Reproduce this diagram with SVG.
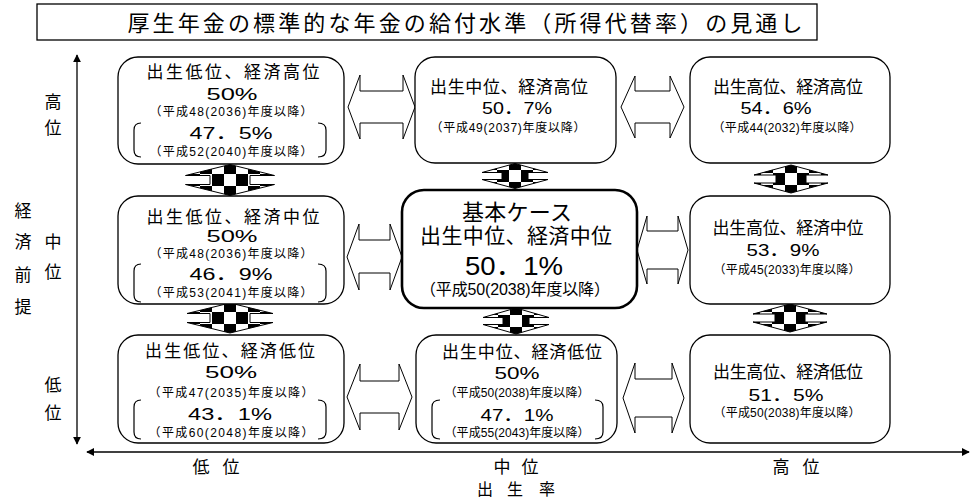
<svg xmlns="http://www.w3.org/2000/svg" width="971" height="499" viewBox="0 0 971 499">
<style>
text{font-family:"Liberation Sans","Noto Sans CJK JP",sans-serif;dominant-baseline:central;text-anchor:middle;fill:#000}
.t{font-size:17px}
.p{font-size:17px}
.s{font-size:12px}
.ax{font-size:17px}
.box{fill:#fff;stroke:#000;stroke-width:1.3}
.br{fill:none;stroke:#000;stroke-width:1.2}
.ha{fill:#fff;stroke:#000;stroke-width:1}
.va{fill:url(#chk);stroke:#000;stroke-width:1}
.axis{stroke:#000;stroke-width:1.3;fill:none}
</style>
<defs>
<pattern id="chk" patternUnits="userSpaceOnUse" x="-6" y="-6" width="24" height="24">
<rect width="24" height="24" fill="#fff"/>
<rect x="12" y="0" width="12" height="12" fill="#000"/>
<rect x="0" y="12" width="12" height="12" fill="#000"/>
</pattern>
<marker id="ah" viewBox="0 0 10 10" refX="9" refY="5" markerWidth="8" markerHeight="8" markerUnits="userSpaceOnUse" orient="auto-start-reverse">
<path d="M0,0 L10,5 L0,10 z" fill="#000"/>
</marker>
</defs>

<g id="title">
<rect x="37" y="4" width="780" height="36" fill="#fff" stroke="#000" stroke-width="1.3"/>
<text x="465" y="23" style="font-size:22px" textLength="675" lengthAdjust="spacing">厚生年金の標準的な年金の給付水準（所得代替率）の見通し</text>
</g>

<g id="axes">
<line class="axis" x1="77" y1="444" x2="77" y2="55" marker-start="url(#ah)" marker-end="url(#ah)"/>
<line class="axis" x1="87" y1="452" x2="969" y2="452" marker-start="url(#ah)" marker-end="url(#ah)"/>
<text class="ax" x="53" y="102">高</text>
<text class="ax" x="53" y="128">位</text>
<text class="ax" x="53" y="242">中</text>
<text class="ax" x="53" y="272">位</text>
<text class="ax" x="53" y="385">低</text>
<text class="ax" x="53" y="413">位</text>
<text class="ax" x="23" y="211">経</text>
<text class="ax" x="23" y="242">済</text>
<text class="ax" x="23" y="275">前</text>
<text class="ax" x="23" y="307">提</text>
<text class="ax" x="201" y="467">低</text>
<text class="ax" x="231" y="467">位</text>
<text class="ax" x="502" y="467">中</text>
<text class="ax" x="530" y="467">位</text>
<text class="ax" x="781" y="467">高</text>
<text class="ax" x="811" y="467">位</text>
<text class="ax" x="485" y="489" style="font-size:16px">出</text>
<text class="ax" x="515" y="489" style="font-size:16px">生</text>
<text class="ax" x="547" y="489" style="font-size:16px">率</text>
</g>

<g id="connectors">
<polygon class="ha" points="348,107 360,75 360,91 403,91 403,75 415,107 403,139 403,123 360,123 360,139"/>
<polygon class="ha" points="621,107 635,76 635,91 670,91 670,76 684,107 670,138 670,123 635,123 635,138"/>
<polygon class="ha" points="347,257 359,224 359,240 390,240 390,224 402,257 390,290 390,273 359,273 359,290"/>
<polygon class="ha" points="637,250 647,216 647,231 678,231 678,216 688,250 678,284 678,269 647,269 647,284"/>
<polygon class="ha" points="347,397 360,364 360,381 399,381 399,364 412,397 399,430 399,413 360,413 360,430"/>
<polygon class="ha" points="623,398 635,363 635,379 672,379 672,363 684,398 672,433 672,417 635,417 635,433"/>
<g transform="translate(230,180)"><polygon class="va" points="0,-15.5 44.5,-4.5 20,-4.5 20,4.5 44.5,4.5 0,15.5 -44.5,4.5 -20,4.5 -20,-4.5 -44.5,-4.5"/></g>
<g transform="translate(230,318)"><polygon class="va" points="0,-15 43,-4.5 20,-4.5 20,4.5 43,4.5 0,15 -43,4.5 -20,4.5 -20,-4.5 -43,-4.5"/></g>
<g transform="translate(515,176)"><polygon class="va" points="0,-12.5 33,-3.5 13,-3.5 13,3.5 33,3.5 0,12.5 -33,3.5 -13,3.5 -13,-3.5 -33,-3.5"/></g>
<g transform="translate(516,321)"><polygon class="va" points="0,-13 33,-3.5 13,-3.5 13,3.5 33,3.5 0,13 -33,3.5 -13,3.5 -13,-3.5 -33,-3.5"/></g>
<g transform="translate(791,179)"><polygon class="va" points="0,-14 37,-4 15,-4 15,4 37,4 0,14 -37,4 -15,4 -15,-4 -37,-4"/></g>
<g transform="translate(790,318)"><polygon class="va" points="0,-14 37,-4 15,-4 15,4 37,4 0,14 -37,4 -15,4 -15,-4 -37,-4"/></g>
</g>

<g id="node-low-high">
<rect class="box" x="118" y="57" width="226" height="107" rx="20"/>
<text class="t" x="233" y="72" textLength="173">出生低位、経済高位</text>
<text class="p" x="232" y="94" textLength="51" lengthAdjust="spacingAndGlyphs">50%</text>
<text class="s" x="231" y="112" textLength="163">（平成48(2036)年度以降）</text>
<path class="br" d="M141,123 Q134,123 134,130 V150 Q134,157 141,157 M318,123 Q326,123 326,130 V150 Q326,157 318,157"/>
<text class="p" x="231" y="133" textLength="83" lengthAdjust="spacingAndGlyphs">47．5%</text>
<text class="s" x="231" y="152" textLength="163">（平成52(2040)年度以降）</text>
</g>

<g id="node-mid-high">
<rect class="box" x="415" y="57" width="201" height="106" rx="20"/>
<text class="t" x="509" y="87" textLength="158">出生中位、経済高位</text>
<text class="p" x="517" y="108" textLength="70" lengthAdjust="spacingAndGlyphs">50．7%</text>
<text class="s" x="508" y="128" textLength="155">（平成49(2037)年度以降）</text>
</g>

<g id="node-high-high">
<rect class="box" x="690" y="57" width="200" height="106" rx="20"/>
<text class="t" x="788" y="87" textLength="150">出生高位、経済高位</text>
<text class="p" x="776" y="108" textLength="71" lengthAdjust="spacingAndGlyphs">54．6%</text>
<text class="s" x="787" y="128" textLength="149">（平成44(2032)年度以降）</text>
</g>

<g id="node-low-mid">
<rect class="box" x="118" y="196" width="226" height="108" rx="20"/>
<text class="t" x="233" y="217" textLength="173">出生低位、経済中位</text>
<text class="p" x="232" y="236" textLength="51" lengthAdjust="spacingAndGlyphs">50%</text>
<text class="s" x="231" y="254" textLength="163">（平成48(2036)年度以降）</text>
<path class="br" d="M141,264 Q134,264 134,271 V295 Q134,302 141,302 M318,264 Q326,264 326,271 V295 Q326,302 318,302"/>
<text class="p" x="231" y="274" textLength="83" lengthAdjust="spacingAndGlyphs">46．9%</text>
<text class="s" x="231" y="293" textLength="163">（平成53(2041)年度以降）</text>
</g>

<g id="node-base">
<rect class="box" x="402" y="190" width="235" height="118" rx="22" style="stroke-width:2.6"/>
<text x="517" y="212" style="font-size:22px" textLength="110">基本ケース</text>
<text x="516" y="235" style="font-size:21px" textLength="192">出生中位、経済中位</text>
<text x="514" y="266" style="font-size:25px" textLength="98" lengthAdjust="spacingAndGlyphs">50．1%</text>
<text x="515" y="289" style="font-size:16px" textLength="190">（平成50(2038)年度以降）</text>
</g>

<g id="node-high-mid">
<rect class="box" x="690" y="196" width="200" height="108" rx="20"/>
<text class="t" x="788" y="228" textLength="151">出生高位、経済中位</text>
<text class="p" x="783" y="250" textLength="73" lengthAdjust="spacingAndGlyphs">53．9%</text>
<text class="s" x="787" y="270" textLength="147">（平成45(2033)年度以降）</text>
</g>

<g id="node-low-low">
<rect class="box" x="118" y="335" width="226" height="108" rx="20"/>
<text class="t" x="230" y="351" textLength="170">出生低位、経済低位</text>
<text class="p" x="231" y="372" textLength="52" lengthAdjust="spacingAndGlyphs">50%</text>
<text class="s" x="231" y="393" textLength="165">（平成47(2035)年度以降）</text>
<path class="br" d="M141,400 Q134,400 134,407 V432 Q134,439 141,439 M318,400 Q326,400 326,407 V432 Q326,439 318,439"/>
<text class="p" x="230" y="414" textLength="84" lengthAdjust="spacingAndGlyphs">43．1%</text>
<text class="s" x="231" y="433" textLength="165">（平成60(2048)年度以降）</text>
</g>

<g id="node-mid-low">
<rect class="box" x="416" y="335" width="201" height="108" rx="20"/>
<text class="t" x="522" y="352" textLength="160">出生中位、経済低位</text>
<text class="p" x="517" y="373" textLength="45" lengthAdjust="spacingAndGlyphs">50%</text>
<text class="s" x="517" y="393" textLength="145">（平成50(2038)年度以降）</text>
<path class="br" d="M440,400 Q432,400 432,407 V432 Q432,439 440,439 M595,400 Q603,400 603,407 V432 Q603,439 595,439"/>
<text class="p" x="517" y="415" textLength="73" lengthAdjust="spacingAndGlyphs">47．1%</text>
<text class="s" x="517" y="433" textLength="145">（平成55(2043)年度以降）</text>
</g>

<g id="node-high-low">
<rect class="box" x="690" y="335" width="200" height="108" rx="20"/>
<text class="t" x="788" y="372" textLength="150">出生高位、経済低位</text>
<text class="p" x="786" y="395" textLength="75" lengthAdjust="spacingAndGlyphs">51．5%</text>
<text class="s" x="787" y="413" textLength="147">（平成50(2038)年度以降）</text>
</g>
</svg>
